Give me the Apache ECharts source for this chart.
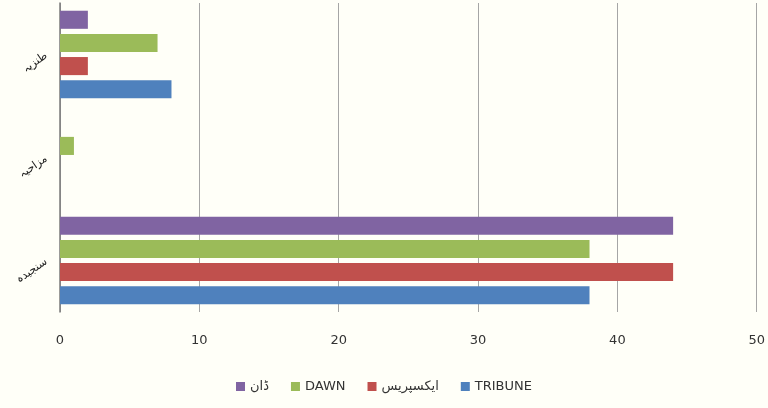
<!DOCTYPE html>
<html>
<head>
<meta charset="utf-8">
<script src="https://cdn.jsdelivr.net/npm/echarts@6/dist/echarts.min.js"></script>
<style>
  html, body { margin: 0; padding: 0; background: #fffff8; }
  #chart { width: 768px; height: 408px; }
</style>
</head>
<body>
<div id="chart"></div>
<script>
// Tone of the coverage, bottom to top
const categories = ['سنجیدہ', 'مزاحیہ', 'طنزیہ'];

// Counts per newspaper, in category order
const tribune = [38, 0, 8];
const express = [44, 0, 2];
const dawn = [38, 1, 7];
const dawnUrdu = [44, 0, 2];

const xTicks = { min: 0, max: 50, interval: 10 };

const chart = echarts.init(document.getElementById('chart'));

function bar(name, data, color) {
  return {
    name: name,
    type: 'bar',
    data: data,
    barGap: '28%',
    barCategoryGap: '15%',
    itemStyle: { color: color }
  };
}

chart.setOption({
  backgroundColor: '#fffff8',
  animation: false,
  grid: { left: 60, right: 9, top: 3, bottom: 96 },
  legend: {
    bottom: 10,
    itemWidth: 9,
    itemHeight: 9,
    itemGap: 22,
    icon: 'rect',
    textStyle: { fontFamily: 'DejaVu Sans, sans-serif', fontSize: 13, color: '#333' },
    data: ['ڈان', 'DAWN', 'ایکسپریس', 'TRIBUNE']
  },
  xAxis: {
    type: 'value',
    min: xTicks.min,
    max: xTicks.max,
    interval: xTicks.interval,
    axisLine: { show: false },
    axisTick: { show: false },
    axisLabel: { color: '#333', fontSize: 13, margin: 22, fontFamily: 'DejaVu Sans, sans-serif' },
    splitLine: { show: true, lineStyle: { color: '#a6a6a6', width: 1 } }
  },
  yAxis: {
    type: 'category',
    data: categories,
    axisLine: { show: true, lineStyle: { color: '#7a7a7a', width: 1.5 } },
    axisTick: { show: false },
    axisLabel: { color: '#222', fontSize: 11, rotate: 35, margin: 14, fontFamily: 'Noto Sans, DejaVu Sans, sans-serif' }
  },
  // Top-to-bottom within each category: ڈان, DAWN, ایکسپریس, TRIBUNE
  series: [
    bar('ڈان', dawnUrdu, '#8064a2'),
    bar('DAWN', dawn, '#9bbb59'),
    bar('ایکسپریس', express, '#c0504d'),
    bar('TRIBUNE', tribune, '#4f81bd')
  ]
});
</script>
</body>
</html>
